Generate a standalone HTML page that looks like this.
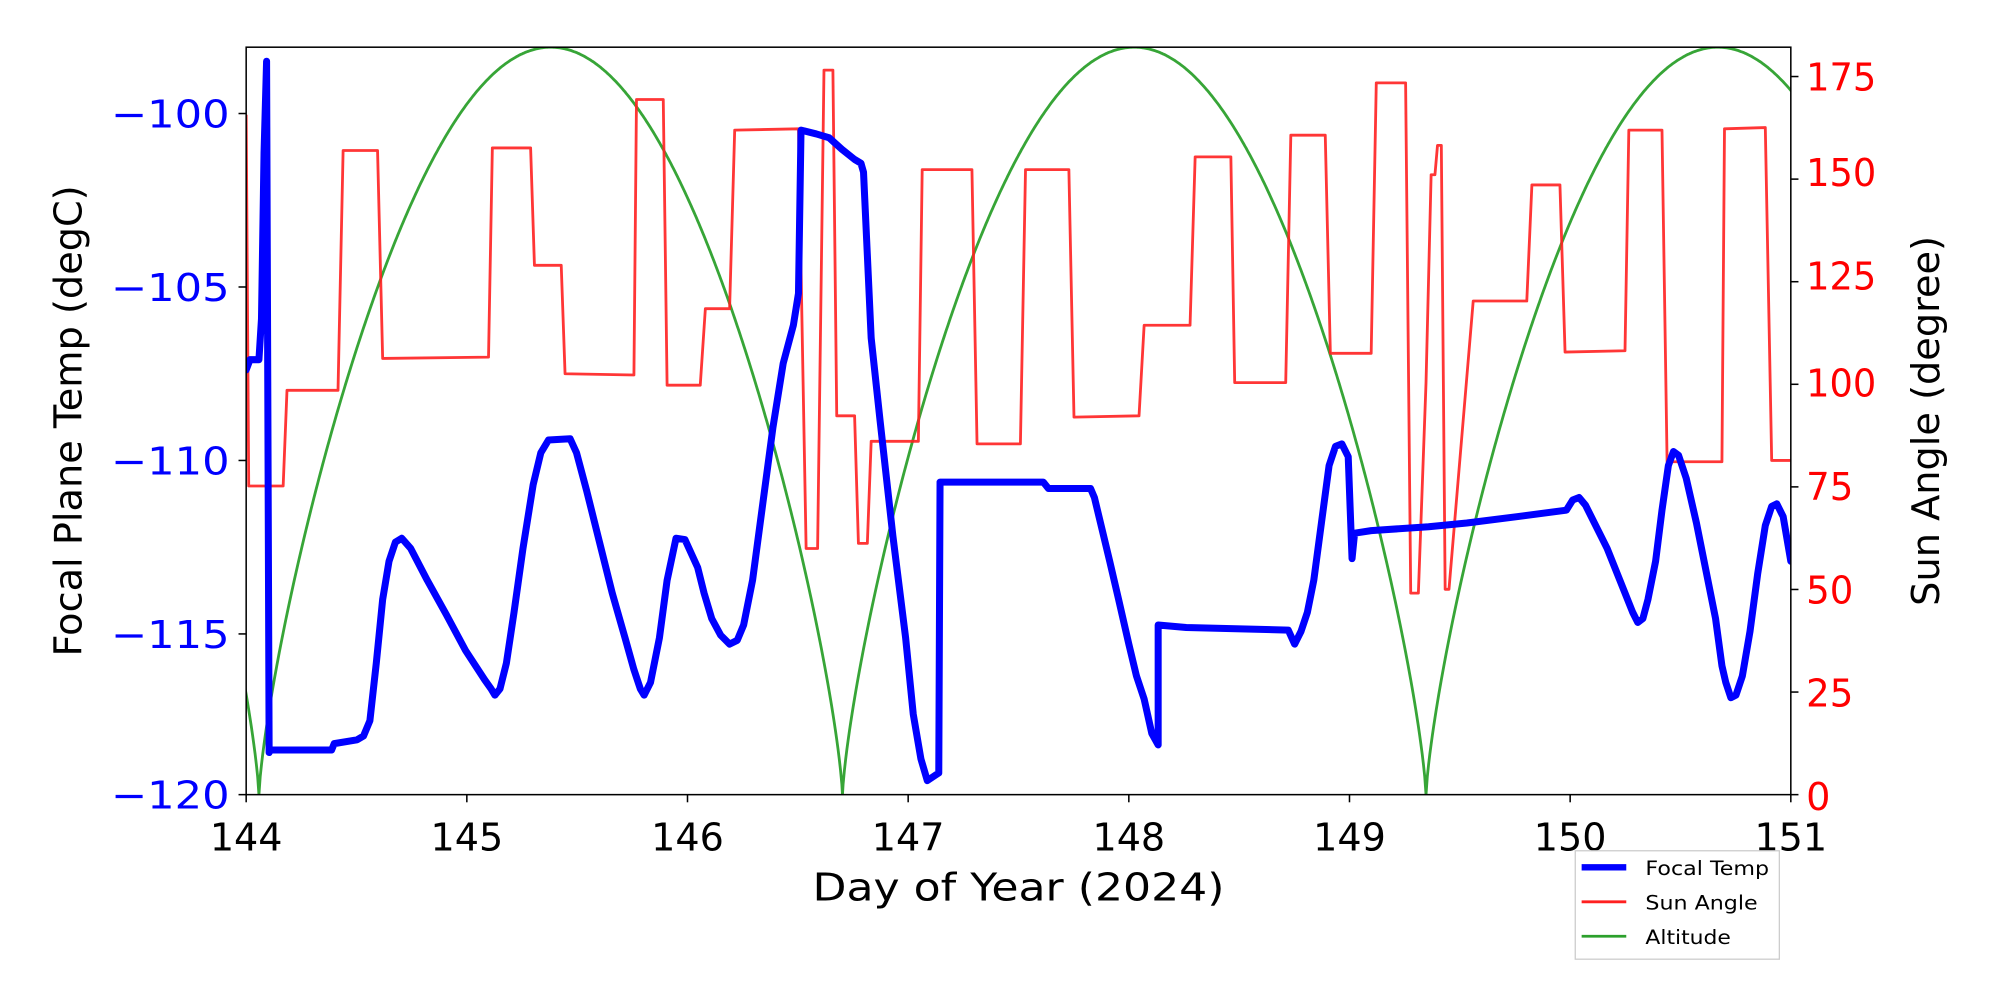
<!DOCTYPE html>
<html><head><meta charset="utf-8"><style>
html,body{margin:0;padding:0;background:#fff;}
svg{display:block;}
text{font-family:"DejaVu Sans","Liberation Sans",sans-serif;}
</style></head><body>
<svg id="s" width="2000" height="1000" viewBox="0 0 1568 784" xmlns="http://www.w3.org/2000/svg">
<defs><clipPath id="c"><rect x="193" y="37" width="1211" height="586"/></clipPath></defs>
<rect x="0" y="0" width="1568" height="784" fill="#fff"/>
<g clip-path="url(#c)">
<path id="green" fill="none" stroke="#2ca02c" stroke-width="2.2" stroke-opacity="0.95"/>
<path id="red" fill="none" stroke="#ff2020" stroke-width="2.2" stroke-opacity="0.9" stroke-linejoin="round"/>
<path id="blue" fill="none" stroke="#0000ff" stroke-width="5.5" stroke-linejoin="round" stroke-linecap="round"/>
</g>
<rect x="193" y="37" width="1211" height="586" fill="none" stroke="#000" stroke-width="1.2"/>
<g id="ticks" stroke="#000" stroke-width="1.2"></g>
<g font-size="30" fill="#0000ff" text-anchor="end" lengthAdjust="spacingAndGlyphs">
<text x="180" y="100" textLength="93" lengthAdjust="spacingAndGlyphs">−100</text>
<text x="180" y="236" textLength="93" lengthAdjust="spacingAndGlyphs">−105</text>
<text x="180" y="372" textLength="93" lengthAdjust="spacingAndGlyphs">−110</text>
<text x="180" y="508" textLength="93" lengthAdjust="spacingAndGlyphs">−115</text>
<text x="180" y="634" textLength="93" lengthAdjust="spacingAndGlyphs">−120</text>
</g>
<g font-size="30" fill="#ff0000" text-anchor="start">
<text x="1416" y="71" textLength="55" lengthAdjust="spacingAndGlyphs">175</text>
<text x="1416" y="146" textLength="55" lengthAdjust="spacingAndGlyphs">150</text>
<text x="1416" y="227" textLength="55" lengthAdjust="spacingAndGlyphs">125</text>
<text x="1416" y="311" textLength="55" lengthAdjust="spacingAndGlyphs">100</text>
<text x="1416" y="392" textLength="37" lengthAdjust="spacingAndGlyphs">75</text>
<text x="1416" y="473" textLength="37" lengthAdjust="spacingAndGlyphs">50</text>
<text x="1416" y="554" textLength="37" lengthAdjust="spacingAndGlyphs">25</text>
<text x="1416" y="635">0</text>
</g>
<g font-size="30" fill="#000" text-anchor="middle">
<text x="193" y="667" textLength="57" lengthAdjust="spacingAndGlyphs">144</text>
<text x="366" y="667" textLength="57" lengthAdjust="spacingAndGlyphs">145</text>
<text x="539" y="667" textLength="57" lengthAdjust="spacingAndGlyphs">146</text>
<text x="712" y="667" textLength="57" lengthAdjust="spacingAndGlyphs">147</text>
<text x="885" y="667" textLength="57" lengthAdjust="spacingAndGlyphs">148</text>
<text x="1058" y="667" textLength="57" lengthAdjust="spacingAndGlyphs">149</text>
<text x="1231" y="667" textLength="57" lengthAdjust="spacingAndGlyphs">150</text>
<text x="1404" y="667" textLength="57" lengthAdjust="spacingAndGlyphs">151</text>
</g>
<text x="637" y="706" font-size="30" textLength="323" lengthAdjust="spacingAndGlyphs" fill="#000">Day of Year (2024)</text>
<text transform="translate(64,330) rotate(-90)" font-size="30" text-anchor="middle" fill="#000">Focal Plane Temp (degC)</text>
<text transform="translate(1520,330) rotate(-90)" font-size="30" text-anchor="middle" fill="#000">Sun Angle (degree)</text>
<rect x="1235" y="667" width="160" height="85" fill="#fff" stroke="#ccc" stroke-width="1"/>
<line x1="1240" y1="680" x2="1275" y2="680" stroke="#0000ff" stroke-width="5"/>
<line x1="1240" y1="707" x2="1275" y2="707" stroke="#ff2020" stroke-width="2.2"/>
<line x1="1240" y1="734" x2="1275" y2="734" stroke="#2ca02c" stroke-width="2.2"/>
<g font-size="15" fill="#000"><text x="1290" y="686" textLength="97" lengthAdjust="spacingAndGlyphs">Focal Temp</text><text x="1290" y="713" textLength="88" lengthAdjust="spacingAndGlyphs">Sun Angle</text><text x="1290" y="740" textLength="67" lengthAdjust="spacingAndGlyphs">Altitude</text></g>
</svg>
<script>
function P(a){var s="M"+a[0]+","+a[1];for(var i=2;i<a.length;i+=2)s+="L"+a[i]+","+a[i+1];return s;}
var g=[];var zs=[203,660.5,1118];
for(var x=190;x<=1406;x+=1){var ph=(x-203)/457.5;var f=ph-Math.floor(ph);g.push(x,(623-586*Math.pow(Math.sin(Math.PI*f),0.75)).toFixed(1));
 for(var k=0;k<zs.length;k++){if(zs[k]>x&&zs[k]<x+1)g.push(zs[k],623);}}
document.getElementById('green').setAttribute('d',P(g));
var r=[193,90,195,381,222,381,225,306,265,306,269,118,296,118,300,281,383,280,386,116,416,116,419,208,440,208,443,293,497,294,499,78,520,78,523,302,549,302,553,242,572,242,576,102,626,101,632,430,641,430,646,55,653,55,656,326,670,326,673,426,680,426,683,346,720,346,723,133,762,133,766,348,800,348,804,133,838,133,842,327,893,326,897,255,933,255,937,123,965,123,968,300,1008,300,1012,106,1039,106,1043,277,1075,277,1079,65,1102,65,1106,465,1112,465,1118,300,1122,137,1125,137,1127,114,1130,114,1133,462,1136,462,1155,236,1197,236,1201,145,1223,145,1227,276,1274,275,1277,102,1303,102,1307,362,1350,362,1352,101,1384,100,1389,361,1404,361];
document.getElementById('red').setAttribute('d',P(r));
var b=[193,290,196,282,203,282,205,250,207,120,209,48,211,590,212,588,260,588,262,583,280,580,285,577,290,565,295,520,300,470,305,440,310,425,315,422,322,430,335,455,350,482,365,510,380,533,385,540,388,545,392,540,397,520,403,480,410,430,418,380,424,355,430,345,447,344,452,355,460,385,470,425,480,465,490,500,497,525,502,540,505,545,510,535,517,500,523,455,530,422,537,423,547,445,552,465,558,485,565,498,572,505,578,502,583,490,590,455,598,395,606,335,614,285,622,255,626,230,628,102,640,105,650,108,660,117,670,125,675,128,677,135,680,200,683,265,690,330,700,420,710,500,716,560,722,595,727,612,733,608,736,606,737,378,818,378,822,383,855,383,858,390,864,415,870,440,877,470,885,505,891,530,897,548,903,575,908,584,908,490,930,492,1010,494,1015,505,1020,495,1025,480,1030,455,1036,410,1042,365,1047,350,1052,348,1057,358,1060,438,1062,418,1075,416,1120,413,1150,410,1190,405,1228,400,1233,392,1238,390,1243,396,1250,410,1260,430,1270,455,1280,480,1284,488,1288,485,1292,470,1298,440,1303,400,1308,365,1312,354,1316,357,1322,375,1330,410,1338,450,1345,485,1350,522,1353,535,1357,547,1361,545,1366,530,1372,495,1378,450,1384,412,1389,397,1393,395,1398,405,1404,440];
document.getElementById('blue').setAttribute('d',P(b));
var t="",i;
for(i=0;i<8;i++){var x=193+173*i;t+='<line x1="'+x+'" y1="623" x2="'+x+'" y2="629"/>';}
var ly=[89,225,361,497,623];for(i=0;i<5;i++)t+='<line x1="187" y1="'+ly[i]+'" x2="193" y2="'+ly[i]+'"/>';
for(i=0;i<8;i++){var y=623-i*(623-60)/7;t+='<line x1="1404" y1="'+y+'" x2="1410" y2="'+y+'"/>';}
document.getElementById('ticks').innerHTML=t;
</script>
</body></html>
